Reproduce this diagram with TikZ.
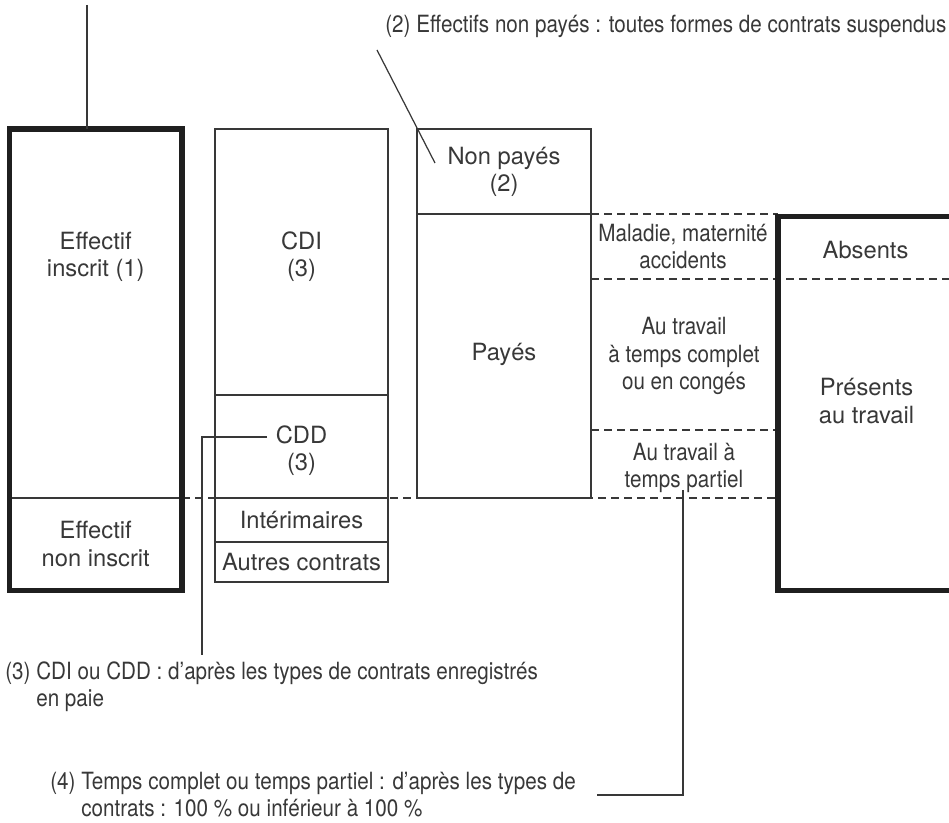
\documentclass[tikz,border=0pt]{standalone}
\usepackage{fontspec}
\setmainfont{TeX Gyre Heros}
\newfontfamily\etroit{TeX Gyre Heros}[FakeStretch=0.87]
\usetikzlibrary{calc}
\definecolor{encre}{HTML}{383838}

\begin{document}
\begin{tikzpicture}[
		cadre/.style={draw=black!88,line width=2.85pt},
		trait/.style={draw=encre,line width=0.7pt},
		tirets/.style={draw=encre,line width=0.7pt,dash pattern=on 4.6pt off 2.8pt},
		case/.style={align=center,text=encre,inner sep=0pt,font=\fontsize{13.5}{15.4}\selectfont},
		motif/.style={case,font=\etroit\fontsize{13.5}{15.4}\selectfont},
		note/.style={align=left,text=encre,inner sep=0pt,anchor=base west,font=\etroit\fontsize{13.5}{15.4}\selectfont}
	]
		\clip (0,0) rectangle (18.98,16.44);

		% lignes pointillées entre les colonnes
		\draw[tirets] (3.64,6.48) -- (15.56,6.48);
		\draw[tirets] (11.82,12.16) -- (15.56,12.16);
		\draw[tirets] (11.82,10.86) -- (18.98,10.86);
		\draw[tirets] (11.82,7.84) -- (15.56,7.84);

		% effectif inscrit / non inscrit
		\draw[trait] (0.19,6.48) -- (3.64,6.48);
		\draw[cadre] (0.19,4.63) rectangle (3.64,13.86);
		\node[case] (inscrit) at (1.915,11.30) {Effectif\\inscrit (1)};
		\node[case] (noninscrit) at (1.915,5.56) {Effectif\\non inscrit};

		% types de contrats
		\draw[trait] (4.30,4.80) rectangle (7.76,13.86);
		\draw[trait] (4.30,8.54) -- (7.76,8.54);
		\draw[trait] (4.30,6.48) -- (7.76,6.48);
		\draw[trait] (4.30,5.60) -- (7.76,5.60);
		\node[case] (cdi) at (6.03,11.30) {CDI\\(3)};
		\node[case] (cdd) at (6.03,7.42) {CDD\\(3)};
		\node[case] (interim) at (6.03,6.04) {Intérimaires};
		\node[case] (autres) at (6.03,5.20) {Autres contrats};

		% payés / non payés
		\draw[trait] (8.34,6.48) rectangle (11.82,13.86);
		\draw[trait] (8.34,12.16) -- (11.82,12.16);
		\node[case] (nonpayes) at (10.08,13.01) {Non payés\\(2)};
		\node[case] (payes) at (10.08,9.36) {Payés};

		% motifs
		\node[motif] (maladie) at (13.66,11.50) {Maladie, maternité\\accidents};
		\node[motif] (complet) at (13.68,9.32) {Au travail\\à temps complet\\ou en congés};
		\node[motif] (partiel) at (13.68,7.08) {Au travail à\\temps partiel};

		% absents / présents
		\draw[cadre] (15.56,4.63) rectangle (19.5,12.11);
		\node[case] (absents) at (17.31,11.44) {Absents};
		\node[case] (presents) at (17.33,8.42) {Présents\\au travail};

		% renvois
		\node[note] (note2) at (7.70,15.78) {(2) Effectifs non payés : toutes formes de contrats suspendus};
		\node[note] (note3) at (0.10,2.30) {(3) CDI ou CDD : d’après les types de contrats enregistrés\\\hphantom{(3) }en paie};
		\node[note] (note4) at (1.00,0.10) {(4) Temps complet ou temps partiel : d’après les types de\\\hphantom{(4) }contrats : 100 \% ou inférieur à 100 \%};

		% traits de rappel
		\coordinate (haut) at (1.74,16.34);
		\coordinate (bord) at (1.74,13.86);
		\coordinate (p2a) at (7.54,15.44);
		\coordinate (p2b) at (8.70,13.18);
		\coordinate (p3a) at (5.34,7.70);
		\coordinate (p3b) at (4.04,7.70);
		\coordinate (p3c) at (4.04,3.34);
		\coordinate (p4a) at (13.66,6.64);
		\coordinate (p4b) at (13.66,0.54);
		\coordinate (p4c) at (11.94,0.54);
		\draw[trait] (haut) -- (bord);
		\draw[trait] (p2a) -- (p2b);
		\draw[trait] (p3a) -- (p3b) -- (p3c);
		\draw[trait] (p4a) -- (p4b) -- (p4c);
	\end{tikzpicture}
\end{document}
